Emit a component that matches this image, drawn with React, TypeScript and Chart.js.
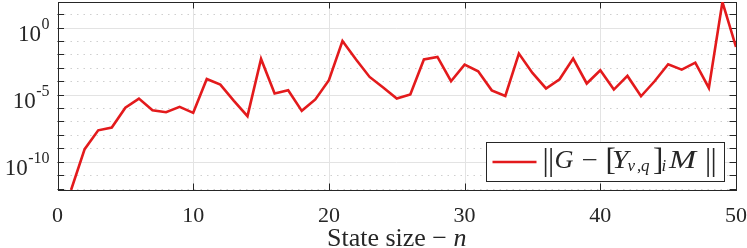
import React, { useEffect, useRef } from 'react';
import { Chart, registerables } from 'chart.js';

Chart.register(...registerables);

// State size n
const stateSizes = [
  1, 2, 3, 4, 5, 6, 7, 8, 9, 10,
  11, 12, 13, 14, 15, 16, 17, 18, 19, 20,
  21, 22, 23, 24, 25, 26, 27, 28, 29, 30,
  31, 32, 33, 34, 35, 36, 37, 38, 39, 40,
  41, 42, 43, 44, 45, 46, 47, 48, 49, 50,
];

// ||G - [Y_{nu,q}]_i M||
const errorNorms = [
  7.8e-13, 8.7e-10, 2.2e-8, 3.5e-8, 1.05e-6, 5.1e-6, 6.9e-7, 4.9e-7, 1.23e-6, 4.4e-7,
  1.48e-4, 5.6e-5, 3.5e-6, 2.5e-7, 4.6e-3, 1.23e-5, 2.1e-5, 6.2e-7, 4.4e-6, 1.2e-4,
  1.0e-1, 4.2e-3, 2.1e-4, 3.4e-5, 5.1e-6, 1.02e-5, 4.2e-3, 6.5e-3, 1.0e-4, 1.74e-3,
  5.6e-4, 2.1e-5, 8.1e-6, 1.15e-2, 4.2e-4, 2.9e-5, 1.41e-4, 4.9e-3, 6.8e-5, 6.6e-4,
  2.4e-5, 2.5e-4, 7.6e-6, 1.0e-4, 1.86e-3, 7.4e-4, 2.45e-3, 3.2e-5, 81, 3.6e-2,
];

const xTicks = [0, 10, 20, 30, 40, 50];
const xMin = 0;
const xMax = 50;
const yMin = 7.8e-13;
const yMax = 81;
const yDecadeExponents = [-12, -11, -10, -9, -8, -7, -6, -5, -4, -3, -2, -1, 0, 1];
const yLabelExponents = [-10, -5, 0];
const xTitle = 'State size \u2212 ';
const xTitleVar = 'n';

const LINE_COLOR = '#e31a1c';
const AXIS_COLOR = '#262626';
const SERIF = '"Liberation Serif", "DejaVu Serif", serif';

const framePlugin = {
  id: 'matlabFrame',
  beforeDatasetsDraw(chart: any) {
    const { ctx, chartArea: a, scales } = chart;
    const xs = scales.x;
    const ys = scales.y;
    ctx.save();
    // vertical grid
    ctx.strokeStyle = '#e3e3e3';
    ctx.lineWidth = 1;
    for (const t of xTicks) {
      if (t === xMin || t === xMax) continue;
      const px = Math.round(xs.getPixelForValue(t)) + 0.5;
      ctx.beginPath();
      ctx.moveTo(px, a.top);
      ctx.lineTo(px, a.bottom);
      ctx.stroke();
    }
    // horizontal grid
    for (const e of yDecadeExponents) {
      const py = Math.round(ys.getPixelForValue(Math.pow(10, e))) + 0.5;
      ctx.beginPath();
      if (e % 5 === 0) {
        ctx.setLineDash([]);
        ctx.strokeStyle = '#e3e3e3';
      } else {
        ctx.setLineDash([1.5, 5]);
        ctx.strokeStyle = '#cfcfcf';
      }
      ctx.moveTo(a.left, py);
      ctx.lineTo(a.right, py);
      ctx.stroke();
    }
    ctx.setLineDash([]);
    // box
    ctx.strokeStyle = AXIS_COLOR;
    ctx.lineWidth = 1;
    ctx.strokeRect(Math.round(a.left) + 0.5, Math.round(a.top) + 0.5,
      Math.round(a.right) - Math.round(a.left), Math.round(a.bottom) - Math.round(a.top));
    // ticks
    const tl = 6.5;
    ctx.beginPath();
    for (const t of xTicks) {
      const px = Math.round(xs.getPixelForValue(t)) + 0.5;
      ctx.moveTo(px, a.bottom);
      ctx.lineTo(px, a.bottom - tl);
      ctx.moveTo(px, a.top);
      ctx.lineTo(px, a.top + tl);
    }
    for (const e of yDecadeExponents) {
      const py = Math.round(ys.getPixelForValue(Math.pow(10, e))) + 0.5;
      ctx.moveTo(a.left, py);
      ctx.lineTo(a.left + tl, py);
      ctx.moveTo(a.right, py);
      ctx.lineTo(a.right - tl, py);
    }
    ctx.stroke();

    // tick labels
    ctx.fillStyle = AXIS_COLOR;
    ctx.textAlign = 'center';
    ctx.textBaseline = 'alphabetic';
    ctx.font = `22px ${SERIF}`;
    for (const t of xTicks) {
      ctx.fillText(String(t), xs.getPixelForValue(t), a.bottom + 31.5);
    }
    ctx.textAlign = 'left';
    for (const e of yLabelExponents) {
      const py = ys.getPixelForValue(Math.pow(10, e));
      const expStr = e < 0 ? '-' + String(-e) : String(e);
      ctx.font = `16px ${SERIF}`;
      const we = ctx.measureText(expStr).width;
      ctx.font = `23px ${SERIF}`;
      const wb = ctx.measureText('10').width;
      const right = a.left - 8;
      ctx.fillText('10', right - we - wb - 0.5, py + 13);
      ctx.font = `16px ${SERIF}`;
      ctx.fillText(expStr, right - we, py + 1);
    }
    // x title
    ctx.font = `26px ${SERIF}`;
    const w1 = ctx.measureText(xTitle).width;
    ctx.font = `italic 26px ${SERIF}`;
    const w2 = ctx.measureText(xTitleVar).width;
    const cx = (a.left + a.right) / 2;
    const x0 = cx - (w1 + w2) / 2;
    ctx.font = `26px ${SERIF}`;
    ctx.fillText(xTitle, x0, a.bottom + 56);
    ctx.font = `italic 26px ${SERIF}`;
    ctx.fillText(xTitleVar, x0 + w1, a.bottom + 56);
    ctx.restore();
  },
  afterDatasetsDraw(chart: any) {
    const { ctx, chartArea: a } = chart;
    ctx.save();
    const bw = 238;
    const bh = 39;
    const bx = Math.round(a.right - 12 - bw) + 0.5;
    const by = Math.round(a.bottom - 9 - bh) + 0.5;
    ctx.fillStyle = '#ffffff';
    ctx.fillRect(bx, by, bw, bh);
    ctx.strokeStyle = AXIS_COLOR;
    ctx.lineWidth = 1;
    ctx.strokeRect(bx, by, bw, bh);
    const cy = by + bh / 2;
    ctx.strokeStyle = LINE_COLOR;
    ctx.lineWidth = 2.5;
    ctx.beginPath();
    ctx.moveTo(bx + 6, cy);
    ctx.lineTo(bx + 50, cy);
    ctx.stroke();

    const big = `31px ${SERIF}`;
    const up = `25px ${SERIF}`;
    const it = `italic 25px ${SERIF}`;
    const sit = `italic 17px ${SERIF}`;
    const sup = `17px ${SERIF}`;
    const base = cy + 5.5;
    const sub = cy + 9;
    const bigBase = cy + 7.5;
    // [text, font, x offset from box left, baseline, horizontal stretch]
    const pieces: [string, string, number, number, number][] = [
      ['|', big, 56, bigBase, 1],
      ['|', big, 61.5, bigBase, 1],
      ['G', it, 68, base, 1.05],
      ['\u2212', up, 95, base, 1.15],
      ['[', big, 119, bigBase, 1],
      ['Y', it, 125.5, base, 1.18],
      ['\u03bd', sit, 141, sub, 1],
      [',', sup, 150.5, sub, 1],
      ['q', sit, 154.5, sub, 1],
      [']', big, 166.5, bigBase, 1],
      ['i', sit, 175, sub, 1],
      ['M', it, 182.5, base, 1.3],
      ['|', big, 218.5, bigBase, 1],
      ['|', big, 224, bigBase, 1],
    ];
    ctx.fillStyle = AXIS_COLOR;
    ctx.textAlign = 'left';
    ctx.textBaseline = 'alphabetic';
    for (const [t, f, dx, yb, sx] of pieces) {
      ctx.font = f;
      ctx.save();
      ctx.translate(bx + dx, yb);
      ctx.scale(sx, 1);
      ctx.fillText(t, 0, 0);
      ctx.restore();
    }
    ctx.restore();
  },
};

export default function App() {
  const ref = useRef<HTMLCanvasElement>(null);
  useEffect(() => {
    if (!ref.current) return;
    const chart = new Chart(ref.current, {
      type: 'line',
      data: {
        datasets: [
          {
            label: '||G \u2212 [Y_{\u03bd,q}]_i M||',
            data: stateSizes.map((n, i) => ({ x: n, y: errorNorms[i] })),
            borderColor: LINE_COLOR,
            backgroundColor: LINE_COLOR,
            borderWidth: 2.6,
            pointRadius: 0,
            tension: 0,
            fill: false,
          },
        ],
      },
      options: {
        responsive: false,
        animation: false,
        events: [],
        layout: { padding: { left: 0, right: 11, top: 2, bottom: 0 } },
        plugins: { legend: { display: false }, tooltip: { enabled: false } },
        scales: {
          x: {
            type: 'linear',
            min: xMin,
            max: xMax,
            ticks: { display: false, stepSize: 10 },
            grid: { display: false },
            border: { display: false },
            afterFit: (s: any) => { s.height = 58; },
          },
          y: {
            type: 'logarithmic',
            min: yMin,
            max: yMax,
            ticks: { display: false },
            grid: { display: false },
            border: { display: false },
            afterFit: (s: any) => { s.width = 57.5; },
          },
        },
      },
      plugins: [framePlugin],
    });
    return () => chart.destroy();
  }, []);
  return (
    <div style={{ position: 'fixed', left: 0, top: 0, width: 747, height: 248, background: '#fff' }}>
      <canvas ref={ref} width={747} height={248} style={{ display: 'block' }} />
    </div>
  );
}
